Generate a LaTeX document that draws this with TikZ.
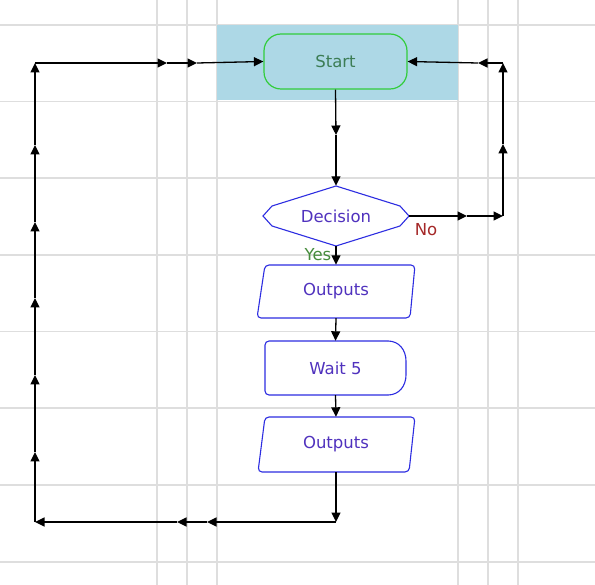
\documentclass[tikz,border=0pt]{standalone}
\usepackage{fontspec}
\setmainfont{DejaVu Sans}
\usetikzlibrary{arrows.meta}
\definecolor{gridgray}{RGB}{222,222,222}
\definecolor{bgblue}{RGB}{173,216,230}
\definecolor{startgreen}{RGB}{50,205,60}
\definecolor{starttext}{RGB}{60,125,85}
\definecolor{shapeblue}{RGB}{45,45,225}
\definecolor{shapetext}{RGB}{80,50,190}
\definecolor{notext}{RGB}{165,40,40}
\definecolor{yestext}{RGB}{70,140,60}
\begin{document}
\begin{tikzpicture}[x=1pt,y=-1pt,
  gridline/.style={draw=gridgray, line width=1.3pt},
  conn/.style={draw=black, line width=1.3pt, -{Triangle[length=9.5pt,width=9pt]}},
  txt/.style={font=\fontsize{16.5}{19}\selectfont, inner sep=0pt},
  holder/.style={txt, rectangle, draw=none, text=shapetext},
  outline/.style={draw=shapeblue, line width=1.1pt, fill=white},
  startbox/.style={txt, rectangle, rounded corners=17pt, draw=startgreen, line width=1.2pt,
    fill=bgblue, text=starttext, minimum width=143pt, minimum height=55pt}]
\fill[white] (0,0) rectangle (595,585);
\useasboundingbox (0,0) rectangle (595,585);
% grid
\foreach \gx in {157,187,217,458,488,518} \draw[gridline] (\gx,0) -- (\gx,585);
\foreach \gy in {25,101.5,178,255,331.5,408,485,562} \draw[gridline] (0,\gy) -- (595,\gy);
% start band
\fill[bgblue] (217,25) rectangle (458,100.5);
% shapes
\node[startbox] (start) at (335.5,61.5) {Start};
\draw[outline] (263,216) -- (272,206) -- (336,186) -- (400,206) -- (409,216) -- (400,226) -- (336,246) -- (272,226) -- cycle;
\node[holder, minimum width=146pt, minimum height=60pt] (dec) at (336,216) {Decision};
\draw[outline, rounded corners=4pt] (265,265) -- (415,265) -- (410,318) -- (257,318) -- cycle;
\node[holder, minimum width=150pt, minimum height=53pt] (out1) at (336,291.5) {Outputs};
\draw[outline, rounded corners=4pt] (388,341) -- (265,341) -- (265,395) -- (388,395);
\draw[outline, fill=none] (388,395) .. controls (399,395) and (406,386) .. (406,375) -- (406,361)
  .. controls (406,350) and (399,341) .. (388,341);
\node[holder, minimum width=141pt, minimum height=54pt] (wait) at (335.5,368) {Wait 5};
\draw[outline, rounded corners=4pt] (265,417) -- (415,417) -- (409,472) -- (258,472) -- cycle;
\node[holder, minimum width=150pt, minimum height=55pt] (out2) at (336,444.5) {Outputs};
% labels
\node[txt, text=notext] (nolab) at (426,230) {No};
\node[txt, text=yestext] (yeslab) at (318,255) {Yes};
% waypoints
\coordinate (m1) at (336,135);
\coordinate (c1) at (336,522);
\coordinate (b1) at (207,522);
\coordinate (b2) at (177,522);
\coordinate (c2) at (35,522);
\coordinate (l1) at (35,452);
\coordinate (l2) at (35,375);
\coordinate (l3) at (35,298);
\coordinate (l4) at (35,222);
\coordinate (l5) at (35,145);
\coordinate (c3) at (35,63);
\coordinate (t1) at (167,63);
\coordinate (t2) at (197,63);
\coordinate (r1) at (467,216);
\coordinate (c4) at (503,216);
\coordinate (r2) at (503,144);
\coordinate (c5) at (503,63);
\coordinate (r3) at (478,63);
% main flow
\draw[conn] (start.south) -- (m1);
\draw[conn] (m1) -- (dec.north);
\draw[conn] (dec.south) -- (out1.north);
\draw[conn] (out1.south) -- (wait.north);
\draw[conn] (wait.south) -- (out2.north);
% loop back left
\draw[conn] (out2.south) -- (c1);
\draw[conn] (c1) -- (b1);
\draw[conn] (b1) -- (b2);
\draw[conn] (b2) -- (c2);
\draw[conn] (c2) -- (l1);
\draw[conn] (l1) -- (l2);
\draw[conn] (l2) -- (l3);
\draw[conn] (l3) -- (l4);
\draw[conn] (l4) -- (l5);
\draw[conn] (l5) -- (c3);
\draw[conn] (c3) -- (t1);
\draw[conn] (t1) -- (t2);
\draw[conn] (t2) -- (start.west);
% no branch right
\draw[conn] (dec.east) -- (r1);
\draw[conn] (r1) -- (c4);
\draw[conn] (c4) -- (r2);
\draw[conn] (r2) -- (c5);
\draw[conn] (c5) -- (r3);
\draw[conn] (r3) -- (start.east);
\end{tikzpicture}
\end{document}
